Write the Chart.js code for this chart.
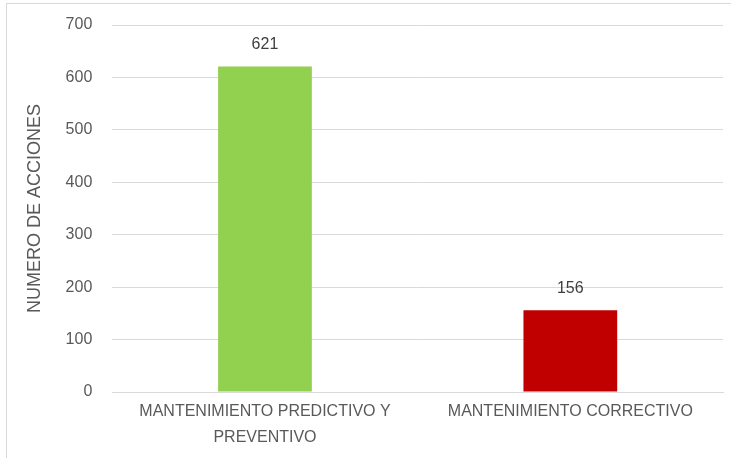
<!DOCTYPE html>
<html>
<head>
<meta charset="utf-8">
<script src="https://cdn.jsdelivr.net/npm/chart.js@4.4.0/dist/chart.umd.min.js"></script>
<style>
  html, body { margin: 0; padding: 0; background: #fff; }
  #frame {
    position: absolute; left: 6px; top: 3px; width: 740px; height: 470px;
    border: 1px solid #d9d9d9; box-sizing: border-box;
  }
  #wrap { position: absolute; left: 0; top: 0; width: 731px; height: 458px; }
</style>
</head>
<body>
<div id="frame"></div>
<div id="wrap"><canvas id="chart"></canvas></div>
<script>
// Acciones de mantenimiento por tipo
const categories = [['MANTENIMIENTO PREDICTIVO Y', 'PREVENTIVO'], 'MANTENIMIENTO CORRECTIVO'];
const acciones = [621, 156];
const barColors = ['#92D050', '#C00000'];
const yTicks = [0, 100, 200, 300, 400, 500, 600, 700];

const TEXT = '#595959';
const FONT = "'Liberation Sans', Arial, sans-serif";

// draws the value above each bar
const valueLabels = {
  id: 'valueLabels',
  afterDatasetsDraw(chart) {
    const ctx = chart.ctx;
    const meta = chart.getDatasetMeta(0);
    ctx.save();
    ctx.font = '16px ' + FONT;
    ctx.fillStyle = '#404040';
    ctx.textAlign = 'center';
    ctx.textBaseline = 'middle';
    meta.data.forEach((bar, i) => {
      ctx.fillText(String(acciones[i]), bar.x, bar.y - 22);
    });
    ctx.restore();
  }
};

new Chart(document.getElementById('chart'), {
  type: 'bar',
  data: {
    labels: categories,
    datasets: [{
      data: acciones,
      backgroundColor: barColors,
      borderWidth: 0,
      barPercentage: 1,
      categoryPercentage: 0.307,
    }],
  },
  options: {
    responsive: true,
    maintainAspectRatio: false,
    animation: false,
    layout: { padding: { left: 11, right: 8, top: 25, bottom: 0 } },
    plugins: {
      legend: { display: false },
      tooltip: { enabled: false },
    },
    scales: {
      x: {
        grid: { display: false, drawTicks: false },
        border: { display: true, color: '#d9d9d9', width: 1 },
        ticks: {
          color: TEXT,
          font: { family: FONT, size: 16, lineHeight: '26px' },
          padding: 7,
          maxRotation: 0,
          autoSkip: false,
        },
      },
      y: {
        min: 0,
        max: 700,
        afterBuildTicks: axis => { axis.ticks = yTicks.map(v => ({ value: v })); },
        afterFit: axis => { axis.paddingTop = 0; },
        grid: { color: '#d9d9d9', drawTicks: false },
        border: { display: false },
        ticks: {
          color: TEXT,
          font: { family: FONT, size: 16 },
          padding: 20,
        },
        title: {
          display: true,
          text: 'NUMERO DE ACCIONES',
          color: TEXT,
          font: { family: FONT, size: 18 },
          padding: { top: 13, bottom: 0 },
        },
      },
    },
  },
  plugins: [valueLabels],
});
</script>
</body>
</html>
